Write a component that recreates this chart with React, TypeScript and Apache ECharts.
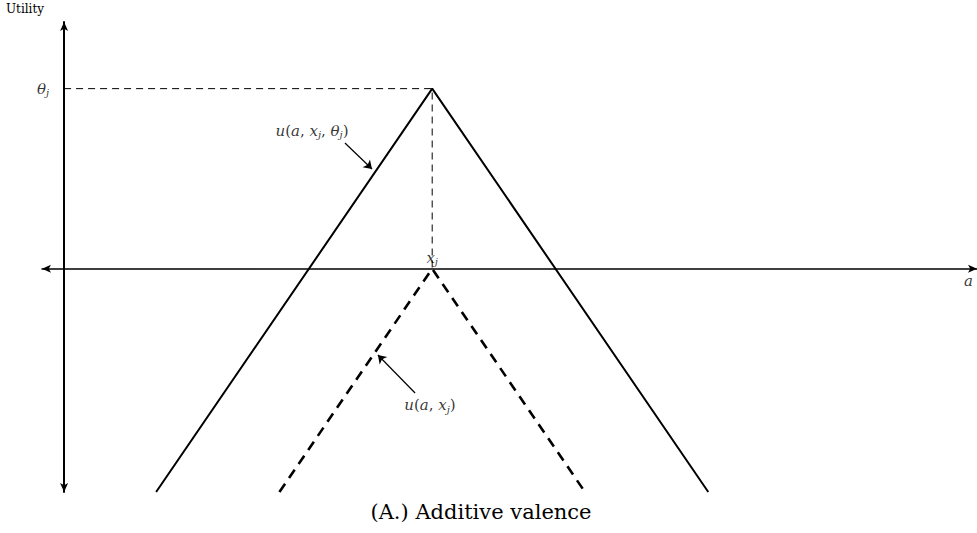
import React, { useEffect, useRef } from "react";
import * as echarts from "echarts";

// Utility curves in (a, u) space; peak at x_j = 2 with theta_j = 1
const solidCurve: [number, number][] = [
  [0.5, -1.24],
  [2, 1],
  [3.5, -1.24],
];
const dashedCurve: [number, number][] = [
  [1.17, -1.24],
  [2, 0],
  [2.83, -1.24],
];
const thetaGuide: [number, number][] = [
  [0, 1],
  [2, 1],
  [2, 0],
];
const pointerArrows: [number, number][][] = [
  [
    [1.526, 0.698],
    [1.673, 0.554],
  ],
  [
    [1.907, -0.69],
    [1.705, -0.479],
  ],
];
const labelNames = ["theta", "xj", "uFull", "uShort", "a"];
const labelPositions: [number, number][] = [
  [0, 1],
  [2, 0],
  [1.347, 0.765],
  [1.988, -0.757],
  [4.93, 0],
];

const serif = "'DejaVu Serif', 'Liberation Serif', serif";

const rich = {
  it: { fontFamily: serif, fontStyle: "italic" as const, fontSize: 15, color: "#000" },
  rm: { fontFamily: serif, fontSize: 15, color: "#000" },
  sub: {
    fontFamily: serif,
    fontStyle: "italic" as const,
    fontSize: 10,
    color: "#000",
    padding: [8, 0, 0, 0],
  },
};

const labelText: Record<string, string> = {
  theta: "{it|θ}{sub|j}",
  xj: "{it|x}{sub|j}",
  uFull: "{it|u}{rm|(}{it|a}{rm|, }{it|x}{sub|j}{rm|, }{it|θ}{sub|j}{rm|)}",
  uShort: "{it|u}{rm|(}{it|a}{rm|, }{it|x}{sub|j}{rm|)}",
  a: "{it|a}",
};

const labelPlacement: Record<string, { position: any; offset?: number[] }> = {
  theta: { position: "left", offset: [-10, 0] },
  xj: { position: "top", offset: [0, 3] },
  uFull: { position: "inside" },
  uShort: { position: "inside" },
  a: { position: "bottom", offset: [-3, 0] },
};

export default function App() {
  const ref = useRef<HTMLDivElement>(null);

  useEffect(() => {
    document.body.style.margin = "0";
    const chart = echarts.init(ref.current!, null, { renderer: "svg" });
    chart.setOption({
      animation: false,
      backgroundColor: "#fff",
      grid: { left: 42, top: 22, width: 935, height: 470, containLabel: false },
      xAxis: {
        type: "value",
        min: -0.12,
        max: 4.96,
        axisLine: {
          show: true,
          onZero: true,
          symbol: ["arrow", "arrow"],
          symbolSize: [6, 9],
          lineStyle: { color: "#000", width: 1.5 },
        },
        axisTick: { show: false },
        axisLabel: { show: false },
        splitLine: { show: false },
      },
      yAxis: {
        type: "value",
        min: -1.24,
        max: 1.37,
        axisLine: {
          show: true,
          onZero: true,
          symbol: ["arrow", "arrow"],
          symbolSize: [6, 9],
          lineStyle: { color: "#000", width: 2 },
        },
        axisTick: { show: false },
        axisLabel: { show: false },
        splitLine: { show: false },
      },
      series: [
        {
          type: "line",
          data: thetaGuide,
          symbol: "none",
          lineStyle: { color: "#000", width: 1, type: [7, 5] },
          z: 2,
        },
        {
          type: "line",
          data: solidCurve,
          symbol: "none",
          lineStyle: { color: "#000", width: 2 },
          z: 3,
        },
        {
          type: "line",
          data: dashedCurve,
          symbol: "none",
          lineStyle: { color: "#000", width: 2.6, type: [10, 7] },
          z: 3,
        },
        {
          type: "lines",
          coordinateSystem: "cartesian2d",
          data: pointerArrows.map((c) => ({ coords: c })),
          symbol: ["none", "arrow"],
          symbolSize: [6, 8],
          lineStyle: { color: "#000", width: 1.2, opacity: 1, curveness: 0 },
          z: 4,
        },
        {
          type: "scatter",
          symbolSize: 0,
          itemStyle: { color: "#000" },
          data: labelPositions.map((p, i) => ({
            value: p,
            label: {
              show: true,
              color: "#000",
              formatter: labelText[labelNames[i]],
              rich,
              ...labelPlacement[labelNames[i]],
            },
          })),
          z: 5,
        },
      ],
      graphic: [
        {
          type: "text",
          left: 6,
          top: 3,
          style: { text: "Utility", font: `12px ${serif}`, fill: "#000" },
        },
        {
          type: "text",
          x: 481,
          y: 512,
          style: {
            text: "(A.) Additive valence",
            font: `21px ${serif}`,
            fill: "#000",
            textAlign: "center",
            textVerticalAlign: "middle",
          },
        },
      ],
    });
    return () => chart.dispose();
  }, []);

  return <div ref={ref} style={{ width: 977, height: 533 }} />;
}
